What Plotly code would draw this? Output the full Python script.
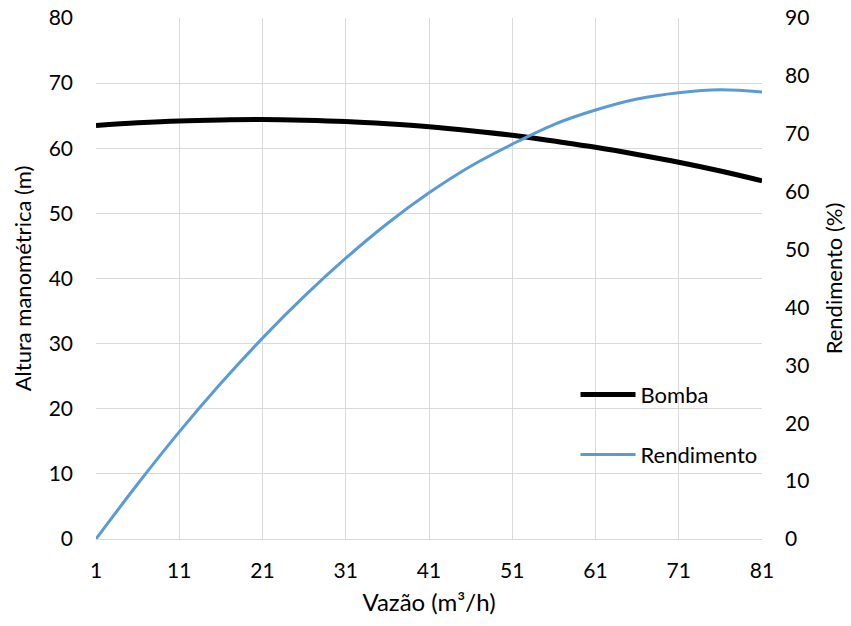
import plotly.graph_objects as go

vazao = [1, 6, 11, 16, 21, 26, 31, 36, 41, 46, 51, 56, 61, 66, 71, 76, 81]
bomba = [63.5, 63.9, 64.2, 64.35, 64.4, 64.3, 64.1, 63.75, 63.3, 62.7, 62.0, 61.1, 60.15, 59.05, 57.85, 56.5, 55.0]
rendimento = [0.0, 9.5, 18.5, 26.9, 34.7, 41.9, 48.5, 54.5, 59.8, 64.4, 68.2, 71.6, 74.1, 76.0, 77.1, 77.6, 77.2]
x_ticks = [1, 11, 21, 31, 41, 51, 61, 71, 81]

FONT = "Lato"
TICK = dict(family=FONT, size=21, color="#000000")
TITLE = dict(family=FONT, size=22, color="#000000")
fig = go.Figure()
fig.add_trace(go.Scatter(x=vazao, y=bomba, name="Bomba", mode="lines",
                         line=dict(color="#000000", width=5, shape="spline"),
                         showlegend=True, legend="legend"))
fig.add_trace(go.Scatter(x=vazao, y=rendimento, name="Rendimento", mode="lines",
                         line=dict(color="#5b9bd5", width=3, shape="spline"),
                         showlegend=True, yaxis="y2", legend="legend2"))

fig.update_layout(
    width=851, height=626,
    margin=dict(l=96, r=89, t=18, b=87, autoexpand=False),
    showlegend=True,
    plot_bgcolor="white", paper_bgcolor="white",
    font=dict(family=FONT, size=19, color="#000000"),
    xaxis=dict(range=[1, 81], tickvals=x_ticks, showgrid=True, gridcolor="#d9d9d9",
               gridwidth=1, zeroline=False, showline=True, linecolor="#d9d9d9",
               ticks="", ticklabelstandoff=13, automargin=False, tickfont=TICK,
               title=dict(text="Vazão (m³/h)", standoff=12, font=dict(family=FONT, size=24))),
    yaxis=dict(range=[0, 80], dtick=10, showgrid=True, gridcolor="#d9d9d9",
               zeroline=False, ticks="", ticklabelstandoff=22, automargin=False, tickfont=TICK,
               title=dict(text="Altura manométrica (m)", standoff=10, font=TITLE)),
    yaxis2=dict(range=[0, 90], dtick=10, overlaying="y", side="right", showgrid=False,
                zeroline=False, ticks="", ticklabelstandoff=22, automargin=False, tickfont=TICK,
                title=dict(text="Rendimento (%)", standoff=18, font=TITLE)),
    legend=dict(x=0.72, y=0.277, xanchor="left", yanchor="middle", bgcolor="rgba(0,0,0,0)",
                itemwidth=55, font=dict(family=FONT, size=22), visible=True),
    legend2=dict(x=0.72, y=0.162, xanchor="left", yanchor="middle", bgcolor="rgba(0,0,0,0)",
                 itemwidth=55, font=dict(family=FONT, size=22), visible=True),
)
fig.write_html("out.html")
